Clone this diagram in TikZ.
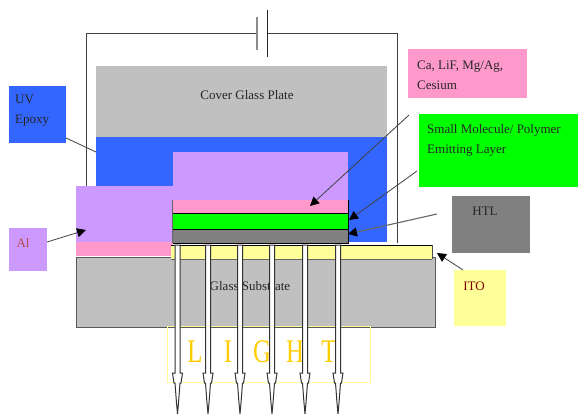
\documentclass[tikz,border=0pt]{standalone}
\usepackage{fontspec}
\setmainfont{Liberation Serif}
\usetikzlibrary{arrows.meta}
\definecolor{pinkc}{HTML}{FF99CC}
\definecolor{purpc}{HTML}{CC99FF}
\definecolor{bluec}{HTML}{3366FF}
\definecolor{greenc}{HTML}{00FF00}
\definecolor{grayc}{HTML}{808080}
\definecolor{glassc}{HTML}{C0C0C0}
\definecolor{yelc}{HTML}{FFFF99}
\definecolor{orac}{HTML}{FFCC00}
\definecolor{wirec}{HTML}{404040}
\tikzset{
 region/.style={anchor=north west,inner sep=0pt,outer sep=0pt,draw=none},
 txt/.style={font=\fontsize{13}{20}\selectfont,text=black!85,inner sep=0pt},
 label/.style={txt,anchor=west,align=left},
 ptr/.style={draw=wirec,line width=.8pt,-{Triangle[length=9pt,width=9pt,color=black]}},
 wire/.style={draw=wirec,line width=.9pt},
 beam/.style={fill=white,draw=black!80,line width=1pt},
 letter/.style={text=orac,font=\fontsize{33}{33}\selectfont,inner sep=0pt},
}
\newcommand{\regbox}[6]{\node[region,fill=#5,minimum width=#3pt,minimum height=#4pt] (#6) at (#1,#2) {};}
\newcommand{\narrow}[1]{\scalebox{.75}[1]{#1}}
\begin{document}
\begin{tikzpicture}[x=1pt,y=-1pt]
\useasboundingbox (0,0) rectangle (578,414);
% wire
\coordinate (wl) at (86,33); \coordinate (wr) at (397,33);
\coordinate (wlb) at (86,186); \coordinate (wrb) at (397,243);
\coordinate (c1t) at (257,17); \coordinate (c1b) at (257,50);
\coordinate (c2t) at (267,10); \coordinate (c2b) at (267,57);
\coordinate (c1) at (257,33); \coordinate (c2) at (267,33);
\draw[wire] (wlb) -- (wl) -- (c1);
\draw[wire] (c2) -- (wr) -- (wrb);
\draw[draw=black!45,line width=1.6pt] (c1t) -- (c1b);
\draw[draw=black!85,line width=.9pt] (c2t) -- (c2b);
% stack
\regbox{96}{66}{290.5}{71}{glassc}{cover}
\regbox{96}{137}{290.5}{105}{bluec}{epoxy}
\regbox{173}{152}{175}{48}{purpc}{alup}
\regbox{76}{186}{97}{56}{purpc}{alleft}
\regbox{76}{242}{96.5}{14}{pinkc}{pinkleft}
\regbox{173}{200}{175}{14}{pinkc}{pinklayer}
\regbox{173}{214}{175}{15}{greenc}{greenlayer}
\regbox{173}{229}{175}{14}{grayc}{graylayer}
\draw[black!60,line width=1pt] (172.5,200) -- (172.5,243);
\draw[black,line width=1pt] (172.5,243) -- (348,243) -- (348,200);
\draw[black,line width=1pt] (173,214) -- (348,214) (173,229) -- (348,229);
% substrate
\node[region,fill=glassc,minimum width=359pt,minimum height=69.5pt] (sub) at (76.5,257.5) {};
\draw[black!65,line width=1pt] (sub.north west) -- (sub.south west) -- (sub.south east) -- (sub.north east) -- cycle;
\node[region,fill=yelc,minimum width=261pt,minimum height=14pt] (ito) at (171,245) {};
\draw[black,line width=1pt] (ito.north west) -- (ito.north east);
\draw[black!70,line width=.8pt] (ito.north east) -- (ito.south east);
\draw[black!60,line width=1pt] (ito.south west) -- (ito.south east);
\node[txt] (subt) at (250,286) {Glass Substrate};
\node[txt] (covt) at (247,95) {Cover Glass Plate};
% LIGHT
\node[region,draw=yelc,line width=.8pt,minimum width=203pt,minimum height=56pt] (lightbox) at (167,326) {};
\node[letter] (l1) at (195,352) {\narrow{L}};
\node[letter] (l2) at (228,352) {\narrow{I}};
\node[letter] (l3) at (262,352) {\narrow{G}};
\node[letter] (l4) at (295,352) {\narrow{H}};
\node[letter] (l5) at (329,352) {\narrow{T}};
% beams
\foreach \x/\n in {177.5/1,208/2,240/3,272/4,305/5,338/6}{
 \coordinate (bt\n) at (\x,245);
 \filldraw[beam] (\x-2.5,245) -- (\x-2.5,373) -- (\x-5,373) -- (\x-3.5,383) -- (\x-2.5,383) -- (\x-1,403) -- (\x,414) -- (\x+1,403) -- (\x+2.5,383) -- (\x+3.5,383) -- (\x+5,373) -- (\x+2.5,373) -- (\x+2.5,245) -- cycle;
}
% labels
\regbox{9}{86}{57}{57}{bluec}{uv}
\node[label] (uvt) at (15,111) {UV\\Epoxy};
\regbox{9}{228}{38}{43}{purpc}{al}
\node[txt,text=red!60!black!70!white] (alt) at (23,243) {Al};
\regbox{408}{49}{119}{49}{pinkc}{pl}
\node[label] (plt) at (417,75) {Ca, LiF, Mg/Ag,\\Cesium};
\regbox{419}{114}{159}{73}{greenc}{gl}
\node[label] (glt) at (427,140) {Small Molecule/ Polymer\\Emitting Layer};
\regbox{452}{196}{78}{57}{grayc}{htl}
\node[txt] (htlt) at (485,211) {HTL};
\regbox{454}{270}{52}{56}{yelc}{itol}
\node[txt,text=red!50!black] (itot) at (474,286) {ITO};
% pointers
\coordinate (a1) at (47,242); \coordinate (a1e) at (86,230);
\coordinate (u1) at (66,138); \coordinate (u1e) at (96,152);
\draw[wire,line width=.8pt] (u1) -- (u1e);
\coordinate (p1) at (409,115); \coordinate (p1e) at (310,206);
\coordinate (g1) at (417,171); \coordinate (g1e) at (349,220);
\coordinate (h1) at (437,214); \coordinate (h1e) at (348,234);
\coordinate (i1) at (463,270); \coordinate (i1e) at (437,253);
\draw[ptr] (a1) -- (a1e);
\draw[ptr] (p1) -- (p1e);
\draw[ptr] (g1) -- (g1e);
\draw[ptr,draw=black!60,line width=1.1pt] (h1) -- (h1e);
\draw[ptr] (i1) -- (i1e);
\end{tikzpicture}
\end{document}
